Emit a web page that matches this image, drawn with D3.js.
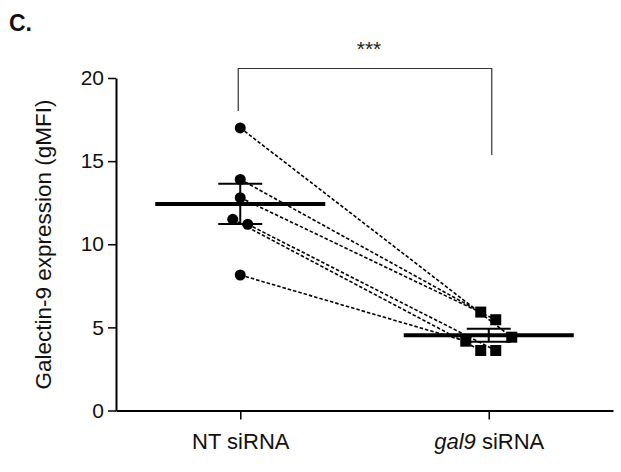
<!DOCTYPE html>
<html>
<head>
<meta charset="utf-8">
<script src="https://cdn.jsdelivr.net/npm/d3@7"></script>
<style>
  html, body { margin: 0; padding: 0; background: #fff; }
  svg { display: block; font-family: "Liberation Sans", Arial, sans-serif; }
</style>
</head>
<body>
<svg id="chart" width="621" height="472"></svg>
<script>
// ---- data ----
const categories = ["NT siRNA", "gal9 siRNA"];
const ntValues   = [17.0, 13.9, 12.8, 11.5, 11.2, 8.15];
const gal9Values = [4.41, 5.92, 5.46, 3.61, 3.61, 4.17]; // paired with ntValues by index
const yTicks     = [0, 5, 10, 15, 20];
const yLabel     = "Galectin-9 expression (gMFI)";
const significance = "***";
const panelLabel = "C.";

// ---- layout ----
const W = 621, H = 472;
const xLeft = 116, xRight = 613;
const yBottom = 410.5, yTop = 78;
const ntJitter   = [0, 0, 0, -7.5, 7.5, 0];
const gal9Jitter = [23, -8, 7, -8, 7, -23];

const svg = d3.select("#chart");

const x = d3.scalePoint().domain(categories).range([xLeft, xRight]).padding(0.5);
const y = d3.scaleLinear().domain([0, 20]).range([yBottom, yTop]);

// panel label
svg.append("text").attr("x", 9).attr("y", 31)
  .attr("font-size", 23).attr("font-weight", "bold").attr("fill", "#111")
  .text(panelLabel);

// y axis
const yAxis = svg.append("g").attr("transform", `translate(${xLeft},0)`)
  .call(d3.axisLeft(y).tickValues(yTicks).tickSize(8).tickSizeOuter(0).tickPadding(4));
yAxis.select(".domain").attr("stroke", "#000").attr("stroke-width", 2);
yAxis.selectAll(".tick line").attr("stroke", "#000").attr("stroke-width", 1.5);
yAxis.selectAll(".tick text").attr("font-size", 21).attr("fill", "#111")
  .attr("font-family", "Liberation Sans, Arial, sans-serif");

// x axis
const xAxis = svg.append("g").attr("transform", `translate(0,${yBottom})`)
  .call(d3.axisBottom(x).tickSize(9).tickSizeOuter(0).tickFormat(""));
xAxis.select(".domain").attr("stroke", "#000").attr("stroke-width", 2);
xAxis.selectAll(".tick line").attr("stroke", "#000").attr("stroke-width", 1.5);
xAxis.selectAll(".tick").each(function(d) {
  const t = d3.select(this).append("text")
    .attr("y", 38.5).attr("text-anchor", "middle")
    .attr("font-size", 22).attr("fill", "#111");
  if (d.startsWith("gal9")) {
    t.append("tspan").attr("font-style", "italic").text("gal9");
    t.append("tspan").text(d.slice(4));
  } else {
    t.text(d);
  }
});

// y label
svg.append("text")
  .attr("transform", `translate(51,244.5) rotate(-90)`)
  .attr("text-anchor", "middle").attr("font-size", 22.5).attr("fill", "#111")
  .text(yLabel);

// paired dashed lines
const pairs = ntValues.map((v, i) => ({
  x1: x(categories[0]) + ntJitter[i], y1: y(v),
  x2: x(categories[1]) + gal9Jitter[i], y2: y(gal9Values[i])
}));
svg.append("g").selectAll("line").data(pairs).join("line")
  .attr("x1", d => d.x1).attr("y1", d => d.y1)
  .attr("x2", d => d.x2).attr("y2", d => d.y2)
  .attr("stroke", "#000").attr("stroke-width", 1.6)
  .attr("stroke-dasharray", "3.5,2");

// mean ± SEM
function stats(arr) {
  const m = d3.mean(arr);
  const sem = d3.deviation(arr) / Math.sqrt(arr.length);
  return { m, sem };
}
const groups = [ntValues, gal9Values];
groups.forEach((arr, gi) => {
  const cx = x(categories[gi]);
  const s = stats(arr);
  const g = svg.append("g");
  g.append("line").attr("x1", cx).attr("x2", cx)
    .attr("y1", y(s.m + s.sem)).attr("y2", y(s.m - s.sem))
    .attr("stroke", "#000").attr("stroke-width", 2);
  [s.m + s.sem, s.m - s.sem].forEach(v => {
    g.append("line").attr("x1", cx - 22).attr("x2", cx + 22)
      .attr("y1", y(v)).attr("y2", y(v))
      .attr("stroke", "#000").attr("stroke-width", 2);
  });
  g.append("line").attr("x1", cx - 85).attr("x2", cx + 85)
    .attr("y1", y(s.m)).attr("y2", y(s.m))
    .attr("stroke", "#000").attr("stroke-width", 4);
});

// markers
svg.append("g").selectAll("circle").data(ntValues).join("circle")
  .attr("cx", (d, i) => x(categories[0]) + ntJitter[i])
  .attr("cy", d => y(d)).attr("r", 5.5).attr("fill", "#000");
const sq = 11;
svg.append("g").selectAll("rect").data(gal9Values).join("rect")
  .attr("x", (d, i) => x(categories[1]) + gal9Jitter[i] - sq / 2)
  .attr("y", d => y(d) - sq / 2).attr("width", sq).attr("height", sq)
  .attr("fill", "#000");

// significance bracket
const bx1 = x(categories[0]) - 2, bx2 = x(categories[1]) + 3;
svg.append("path")
  .attr("d", `M${bx1},111 V68.5 H${bx2} V155`)
  .attr("fill", "none").attr("stroke", "#333").attr("stroke-width", 1.2);
svg.append("text").attr("x", (bx1 + bx2) / 2 + 4).attr("y", 56)
  .attr("text-anchor", "middle").attr("font-size", 21).attr("fill", "#222")
  .text(significance);
</script>
</body>
</html>
